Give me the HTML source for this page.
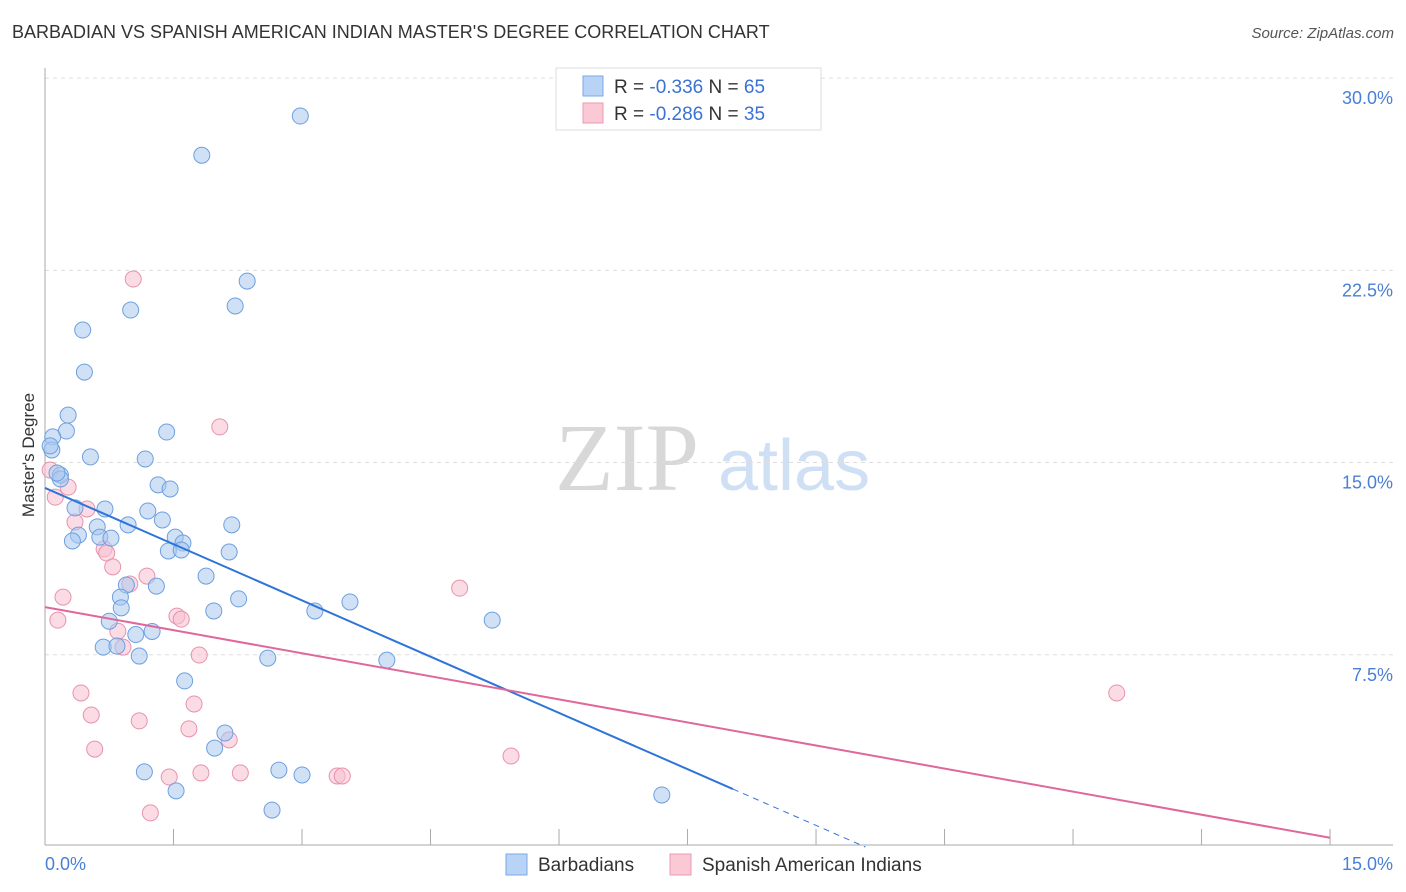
<!DOCTYPE html>
<html><head><meta charset="utf-8"><style>
body{margin:0;background:#fff;font-family:"Liberation Sans",sans-serif;}
#wrap{position:relative;width:1406px;height:892px;overflow:hidden;}
.t{position:absolute;white-space:nowrap;}
</style></head><body>
<div id="wrap">
<div class="t" style="left:12px;top:22px;font-size:18px;color:#333;">BARBADIAN VS SPANISH AMERICAN INDIAN MASTER'S DEGREE CORRELATION CHART</div>
<div class="t" style="right:12px;top:25px;font-size:15px;color:#555;font-style:italic;">Source: ZipAtlas.com</div>
<svg id="svg" width="1406" height="892" style="position:absolute;left:0;top:0"></svg>
</div>
<script>
const xTicks=[0,15];
const yTicks=[7.5,15,22.5,30];
const blueX=[2.98,1.83,2.36,1.00,2.22,0.44,0.46,0.27,0.25,0.09,1.42,0.08,0.53,1.17,0.18,1.32,1.46,0.70,1.20,0.61,0.97,2.18,1.37,0.35,0.39,0.64,0.77,0.32,1.52,1.61,1.44,1.59,2.15,1.88,0.95,1.30,2.26,3.56,1.97,3.15,0.88,0.89,5.22,0.75,1.25,1.06,0.68,0.84,1.10,2.60,3.99,1.63,2.10,1.98,1.16,2.73,3.00,1.53,2.65,7.20,0.06,0.18,0.14];
const blueY=[28.52,26.99,22.08,20.95,21.11,20.17,18.53,16.85,16.23,16.00,16.19,15.49,15.22,15.14,14.51,14.13,13.97,13.19,13.11,12.49,12.57,12.57,12.76,13.23,12.17,12.09,12.05,11.94,12.09,11.86,11.55,11.59,11.51,10.57,10.22,10.18,9.68,9.56,9.21,9.21,9.75,9.33,8.85,8.81,8.41,8.29,7.80,7.84,7.45,7.37,7.29,6.48,4.45,3.86,2.93,3.00,2.81,2.19,1.44,2.03,15.65,14.36,14.59];
const pinkX=[1.03,2.04,0.06,0.27,0.12,0.49,0.35,0.69,0.72,0.79,0.99,1.19,4.84,0.21,0.15,1.54,1.59,0.85,0.91,1.80,12.51,0.42,1.74,0.54,1.10,1.68,2.15,0.58,5.44,1.45,1.82,2.28,3.41,3.47,1.23];
const pinkY=[22.16,16.39,14.71,14.04,13.65,13.19,12.68,11.63,11.47,10.93,10.26,10.57,10.10,9.75,8.85,9.01,8.89,8.42,7.80,7.49,6.01,6.01,5.58,5.15,4.92,4.61,4.18,3.82,3.55,2.73,2.89,2.89,2.77,2.77,1.33];
const blueFit=[14.01,-1.463];
const pinkFit=[9.36,-0.60];
const sx=v=>45+v*85.67;
const sy=v=>847-v*25.63;
const svg=document.getElementById('svg');
const NS='http://www.w3.org/2000/svg';
function mk(tag,at,parent){const e=document.createElementNS(NS,tag);for(const k in at)e.setAttribute(k,at[k]);(parent||svg).appendChild(e);return e;}
// watermark
let w=mk('text',{x:555,y:490,'font-size':96,fill:'#d8d8d8','font-family':'Liberation Serif, serif'});w.textContent='ZIP';


let w2=mk('text',{x:718,y:490,'font-size':72,fill:'#cfe0f5','font-family':'Liberation Sans, sans-serif'});w2.textContent='atlas';


// grid
yTicks.forEach(v=>{
 const g=mk('line',{x1:45,x2:1393,y1:sy(v),y2:sy(v),stroke:'#ddd','stroke-dasharray':'4,4'});
 
 
 const t=mk('text',{x:1393,y:sy(v)+26,'text-anchor':'end','font-size':18,fill:'#4a7fd6'});t.textContent=v.toFixed(1)+'%';
 
 
});
let ax=mk('line',{x1:45,x2:45,y1:68,y2:845,stroke:'#aaa'});


let bx=mk('line',{x1:45,x2:1393,y1:845,y2:845,stroke:'#aaa'});


for(let i=0;i<=10;i++){const tk=mk('line',{x1:sx(i*1.5),x2:sx(i*1.5),y1:829,y2:845,stroke:'#aaa'});
 
 }
xTicks.forEach((v,i)=>{const t=mk('text',{x:i==0?45:1393,y:870,'text-anchor':i==0?'start':'end','font-size':18,fill:'#4a7fd6'});t.textContent=v.toFixed(1)+'%';
 
 });
let yl=mk('text',{x:0,y:0,transform:'translate(34,455) rotate(-90)','text-anchor':'middle','font-size':17,fill:'#333'});yl.textContent="Master's Degree";


// points
function pts(X,Y,fill,stroke,name){X.forEach((x,i)=>{const c=mk('circle',{cx:sx(x),cy:sy(Y[i]),r:8,fill:fill,'fill-opacity':0.55,stroke:stroke,'stroke-width':1});
 
 });}
pts(pinkX,pinkY,'#f7bfd0','#e892ad','pink-point');
pts(blueX,blueY,'#a9c8ef','#6d9fe0','blue-point');
// fits
let bEnd=8.03, bZero=-blueFit[0]/blueFit[1];
let l1=mk('line',{x1:sx(0),y1:sy(blueFit[0]),x2:sx(bEnd),y2:sy(blueFit[0]+blueFit[1]*bEnd),stroke:'#2f74d8','stroke-width':2});


let l1d=mk('line',{x1:sx(bEnd),y1:sy(blueFit[0]+blueFit[1]*bEnd),x2:sx(bZero),y2:sy(0),stroke:'#2f74d8','stroke-width':1,'stroke-dasharray':'6,5'});


let l2=mk('line',{x1:sx(0),y1:sy(pinkFit[0]),x2:sx(15),y2:sy(pinkFit[0]+pinkFit[1]*15),stroke:'#e0679a','stroke-width':2});


// legend box
let lb=mk('rect',{x:556,y:68,width:265,height:62,fill:'#fff',stroke:'#ddd'});


[['#b8d3f5','#7aa8e6','-0.336','65',86],['#fbc8d6','#eb9ab3','-0.286','35',113]].forEach(r=>{
 const s=mk('rect',{x:583,y:r[4]-10,width:20,height:20,fill:r[0],stroke:r[1]});
 
 
 const t=mk('text',{x:614,y:r[4]+7,'font-size':19,fill:'#333'});
 t.innerHTML='R = <tspan fill="#3a72d4">'+r[2]+'</tspan>   N = <tspan fill="#3a72d4">'+r[3]+'</tspan>';
 t.setAttribute('xml:space','preserve');
 
 
});
// bottom legend
[[506,'#b8d3f5','#7aa8e6','Barbadians'],[670,'#fbc8d6','#eb9ab3','Spanish American Indians']].forEach(r=>{
 const s=mk('rect',{x:r[0],y:854,width:21,height:21,fill:r[1],stroke:r[2]});
 
 
 const t=mk('text',{x:r[0]+32,y:871,'font-size':19,fill:'#333'});t.textContent=r[3];
 
 
});
</script>
</body></html>
